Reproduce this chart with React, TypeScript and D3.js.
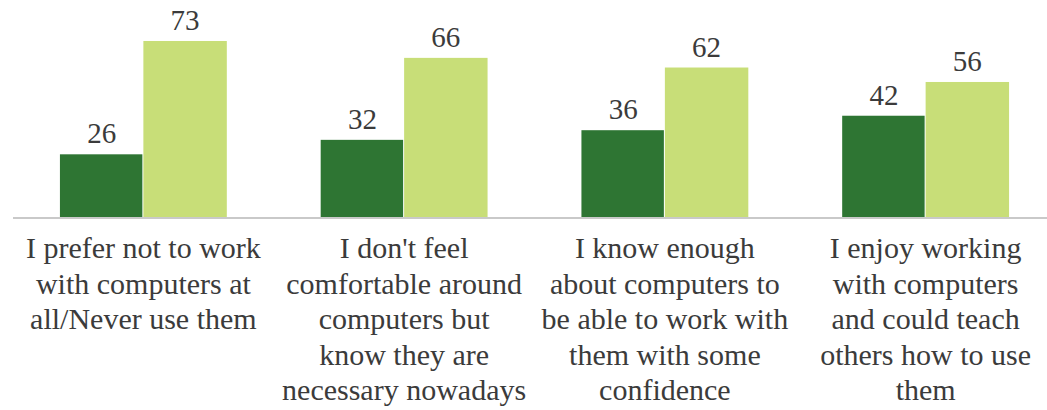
import React from "react";
import * as d3 from "d3";

const categories: string[][] = [
  ["I prefer not to work", "with computers at", "all/Never use them"],
  ["I don't feel", "comfortable around", "computers but", "know they are", "necessary nowadays"],
  ["I know enough", "about computers to", "be able to work with", "them with some", "confidence"],
  ["I enjoy working", "with computers", "and could teach", "others how to use", "them"],
];
const seriesKeys = ["dark", "light"];
const darkValues = [26, 32, 36, 42];
const lightValues = [73, 66, 62, 56];
const colors = ["#2e7533", "#c8de78"];

const W = 1047;
const H = 410;

export default function App() {
  const ids = categories.map((_, i) => String(i));
  const x = d3.scaleBand<string>().domain(ids).range([13, 1056]).paddingInner(0.36).paddingOuter(0.18);
  const xi = d3.scaleBand<string>().domain(seriesKeys).range([0, x.bandwidth()]).padding(0);
  const y = d3.scaleLinear().domain([0, 90]).range([217, 0]);
  const values = [darkValues, lightValues];
  const textColor = "#3b3b3b";

  return (
    <div style={{ position: "absolute", left: 0, top: 0, width: W, height: H, fontFamily: "Liberation Serif" }}>
      <svg width={W} height={H} fontFamily="Liberation Serif">
        <rect x={0} y={0} width={W} height={H} fill="#fff" />
        <g fontFamily="Liberation Serif">
          {ids.map((id, ci) => (
            <g key={id} transform={`translate(${x(id)},0)`}>
              {seriesKeys.map((k, si) => {
                const v = values[si][ci];
                const bx = xi(k)!;
                const bw = xi.bandwidth() - (si === 0 ? 1 : 0);
                return (
                  <g key={k}>
                    <rect x={bx} y={y(v)} width={bw} height={y(0) - y(v)} fill={colors[si]} />
                    <text
                      x={bx + xi.bandwidth() / 2}
                      y={y(v) - 11}
                      textAnchor="middle"
                      fontFamily="Liberation Serif"
                      fontSize={29}
                      fill={textColor}
                    >
                      {String(v)}
                    </text>
                  </g>
                );
              })}
            </g>
          ))}
          <line x1={13} x2={W} y1={218} y2={218} stroke="#c9c9c9" strokeWidth={2} />
          {ids.map((id, ci) =>
            categories[ci].map((line, li) => (
              <text
                key={`${id}-${li}`}
                x={x(id)! + x.bandwidth() / 2}
                y={258 + li * 35.5}
                textAnchor="middle"
                fontFamily="Liberation Serif"
                fontSize={30}
                fill={textColor}
              >
                {line}
              </text>
            ))
          )}
        </g>
      </svg>
    </div>
  );
}
